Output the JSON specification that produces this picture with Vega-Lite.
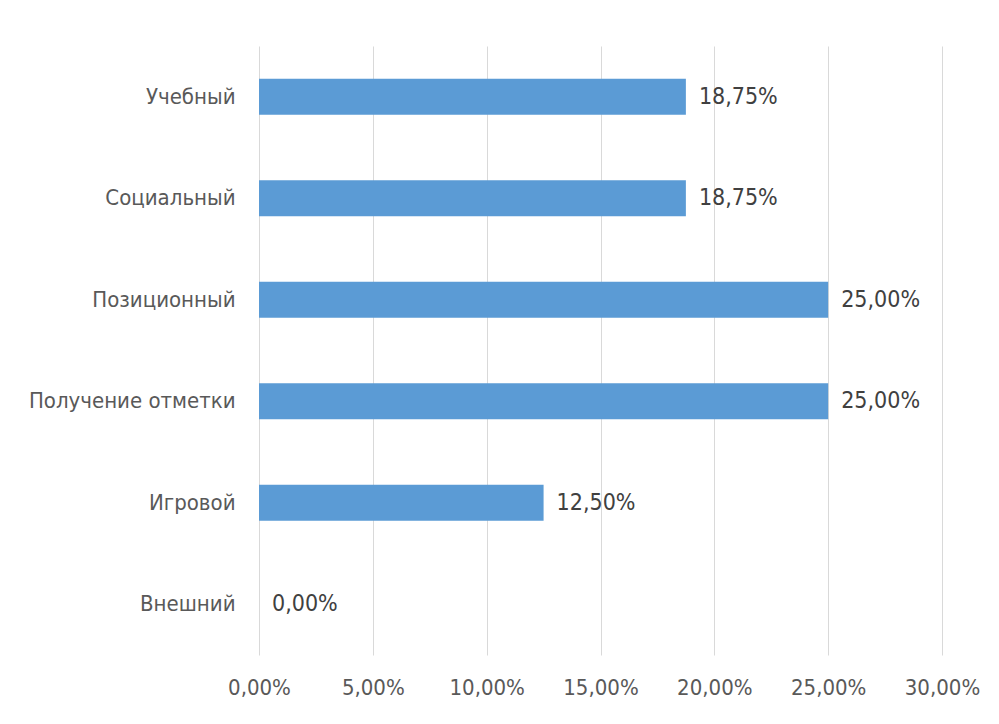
{
  "$schema": "https://vega.github.io/schema/vega-lite/v6.json",
  "width": 683,
  "height": 609,
  "autosize": {"type": "none"},
  "padding": {"left": 259, "top": 46, "right": 57, "bottom": 69},
  "background": "white",
  "config": {
    "locale": {"number": {"decimal": ",", "thousands": " ", "grouping": [3], "currency": ["", " ₽"]}},
    "view": {"stroke": null},
    "font": "DejaVu Sans Condensed, Liberation Sans, sans-serif",
    "axis": {"labelFont": "DejaVu Sans Condensed, Liberation Sans, sans-serif", "labelFontSize": 22, "labelColor": "#595959", "labelLimit": 400}
  },
  "data": {
    "values": [
      {"category": "Учебный", "value": 0.1875},
      {"category": "Социальный", "value": 0.1875},
      {"category": "Позиционный", "value": 0.25},
      {"category": "Получение отметки", "value": 0.25},
      {"category": "Игровой", "value": 0.125},
      {"category": "Внешний", "value": 0}
    ]
  },
  "encoding": {
    "y": {
      "field": "category", "type": "nominal", "sort": null,
      "scale": {"paddingInner": 0.645, "paddingOuter": 0.3225},
      "axis": {"title": null, "domain": false, "ticks": false, "labelPadding": 24, "grid": false}
    },
    "x": {
      "field": "value", "type": "quantitative",
      "scale": {"domain": [0, 0.3]},
      "axis": {"title": null, "format": ".2%", "values": [0, 0.05, 0.1, 0.15, 0.2, 0.25, 0.3], "domain": false, "ticks": false, "grid": true, "gridColor": "#d9d9d9", "gridWidth": 1, "labelPadding": 22, "labelFlush": false, "labelOverlap": false}
    }
  },
  "layer": [
    {"mark": {"type": "bar", "color": "#5B9BD5"}},
    {
      "mark": {"type": "text", "align": "left", "dx": 13, "fontSize": 23, "color": "#404040", "font": "DejaVu Sans Condensed, Liberation Sans, sans-serif"},
      "encoding": {"text": {"field": "value", "type": "quantitative", "format": ".2%"}}
    }
  ]
}
